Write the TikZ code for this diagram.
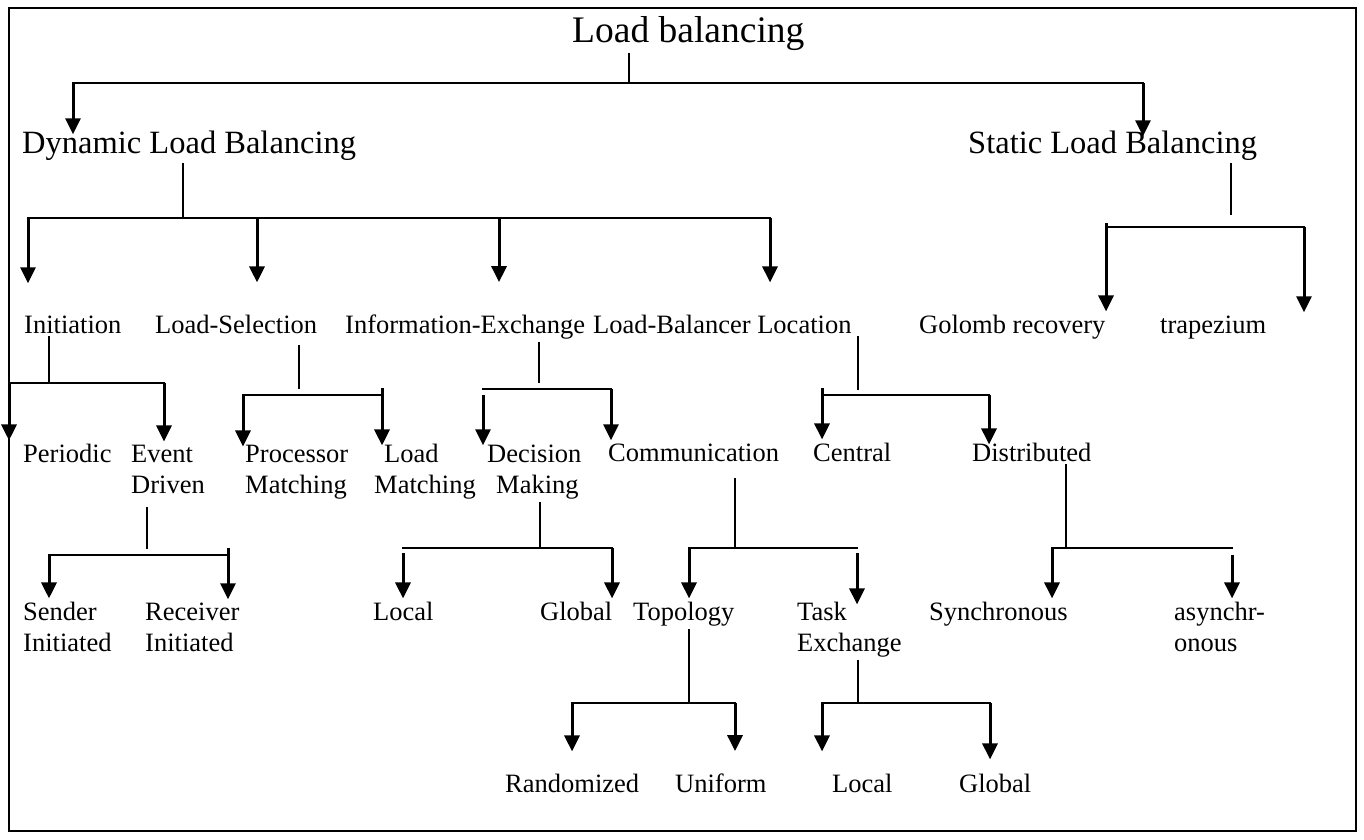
\documentclass[tikz,border=0pt]{standalone}
\usepackage{fontspec}
\setmainfont{Liberation Serif}
\usetikzlibrary{arrows.meta}

\begin{document}
\begin{tikzpicture}[
  x=1pt,y=-1pt,
  lbl/.style={anchor=base west,inner xsep=0pt,inner ysep=3pt,align=left,
              font=\fontsize{26.5}{31}\selectfont},
  kind/.style={lbl,font=\fontsize{32.5}{39}\selectfont},
  stem/.style={line width=1.5pt},
  bar/.style={line width=2.4pt,line cap=rect},
  arr/.style={line width=3pt,-{Triangle[length=16pt,width=15pt]}},
]
\useasboundingbox (0,0) rectangle (1364,839);
\draw[line width=2.6pt] (9,8) rectangle (1356,831);

% top of the tree
\node[lbl,font=\fontsize{37.5}{45}\selectfont] (root) at (572,42) {Load balancing};
\node[kind] (dyn)  at (22,153)  {Dynamic Load Balancing};
\node[kind] (stat) at (968,153) {Static Load Balancing};

% second row
\node[lbl] (init) at (24,333)   {Initiation};
\node[lbl] (lsel) at (155,333)  {Load-Selection};
\node[lbl] (iex)  at (345,333)  {Information-Exchange};
\node[lbl] (lloc) at (593,333)  {Load-Balancer Location};
\node[lbl] (gol)  at (919,333)  {Golomb recovery};
\node[lbl] (trap) at (1160,333) {trapezium};

% third row (two-line nodes sit on their last line)
\node[lbl] (per)  at (23,462)  {Periodic};
\node[lbl] (evd)  at (131,493) {Event\\Driven};
\node[lbl] (pm)   at (245,493) {Processor\\Matching};
\node[lbl] (lm)   at (374,493) {\hspace*{10pt}Load\\Matching};
\node[lbl] (dm)   at (487,493) {Decision\\\hspace*{9pt}Making};
\node[lbl] (comm) at (608,461) {Communication};
\node[lbl] (cen)  at (813,461) {Central};
\node[lbl] (dist) at (972,461) {Distributed};

% fourth row
\node[lbl] (snd)   at (23,651)   {Sender\\Initiated};
\node[lbl] (rcv)   at (145,651)  {Receiver\\Initiated};
\node[lbl] (loc1)  at (373,620)  {Local};
\node[lbl] (glob1) at (540,620)  {Global};
\node[lbl] (topo)  at (633,620)  {Topology};
\node[lbl] (tex)   at (797,651)  {Task\\Exchange};
\node[lbl] (sync)  at (929,620)  {Synchronous};
\node[lbl] (async) at (1174,651) {asynchr-\\onous};

% bottom row
\node[lbl] (rnd)   at (505,792) {Randomized};
\node[lbl] (uni)   at (675,792) {Uniform};
\node[lbl] (loc2)  at (832,792) {Local};
\node[lbl] (glob2) at (959,792) {Global};

% Load balancing
\coordinate (r-j) at (629,83);
\coordinate (r-l) at (73,83);
\coordinate (r-r) at (1143,83);
\draw[stem] (root.south -| r-j) -- (r-j);
\draw[bar] (r-l) -- (r-r);
\draw[arr,shorten >=-7pt] (r-l) -- (r-l |- dyn.north);
\draw[arr,shorten >=-9pt] (r-r) -- (r-r |- stat.north);

% Dynamic Load Balancing
\coordinate (d-j) at (183,218);
\coordinate (d-1) at (28,218);
\coordinate (d-2) at (257,218);
\coordinate (d-3) at (499,218);
\coordinate (d-4) at (770,218);
\draw[stem] (dyn.south -| d-j) -- (d-j);
\draw[bar] (d-1) -- (d-4);
\draw[arr,shorten >=29pt] (d-1) -- (d-1 |- init.north);
\draw[arr,shorten >=29pt] (d-2) -- (d-2 |- lsel.north);
\draw[arr,shorten >=29pt] (d-3) -- (d-3 |- iex.north);
\draw[arr,shorten >=29pt] (d-4) -- (d-4 |- lloc.north);

% Static Load Balancing
\coordinate (s-j) at (1231,215);
\coordinate (s-l) at (1106,227);
\coordinate (s-r) at (1304,227);
\draw[stem] (stat.south -| s-j) -- (s-j);
\draw[bar] (s-l) -- (s-r);
\draw[arr] ([yshift=4pt]s-l) -- (s-l |- gol.north);
\draw[arr] (s-r) -- (s-r |- trap.north);

% Initiation
\coordinate (i-j) at (49,383);
\coordinate (i-l) at (9,383);
\coordinate (i-r) at (164,383);
\draw[stem] (init.south -| i-j) -- (i-j);
\draw[bar] (i-l) -- (i-r);
\draw[arr] (i-l) -- (i-l |- per.north);
\draw[arr] (i-r) -- (i-r |- evd.north);

% Load-Selection
\coordinate (ls-j) at (299,389);
\coordinate (ls-l) at (243,395);
\coordinate (ls-r) at (382,395);
\draw[stem,shorten <=9pt] (lsel.south -| ls-j) -- (ls-j);
\draw[bar] (ls-l) -- (ls-r);
\draw[arr,shorten >=-5pt] (ls-l) -- (ls-l |- pm.north);
\draw[arr,shorten >=-5pt] ([yshift=7pt]ls-r) -- (ls-r |- lm.north);

% Information-Exchange
\coordinate (ie-j) at (539,383);
\coordinate (ie-l) at (483,389);
\coordinate (ie-r) at (611,389);
\draw[stem] (iex.south -| ie-j) -- (ie-j);
\draw[bar] (ie-l) -- (ie-r);
\draw[arr,shorten >=-4pt] ([yshift=-6pt]ie-l) -- (ie-l |- dm.north);
\draw[arr] (ie-r) -- (ie-r |- comm.north);

% Load-Balancer Location
\coordinate (lb-j) at (858,390);
\coordinate (lb-l) at (822,395);
\coordinate (lb-r) at (989,395);
\draw[stem] (lloc.south -| lb-j) -- (lb-j);
\draw[bar] (lb-l) -- (lb-r);
\draw[arr] ([yshift=7pt]lb-l) -- (lb-l |- cen.north);
\draw[arr,shorten >=-5pt] (lb-r) -- (lb-r |- dist.north);

% Event Driven
\coordinate (ed-j) at (147,549);
\coordinate (ed-l) at (49,555);
\coordinate (ed-r) at (228,555);
\draw[stem,shorten <=11pt] (evd.south -| ed-j) -- (ed-j);
\draw[bar] (ed-l) -- (ed-r);
\draw[arr] (ed-l) -- (ed-l |- snd.north);
\draw[arr] ([yshift=7pt]ed-r) -- (ed-r |- rcv.north);

% Decision Making
\coordinate (dm-j) at (540,548);
\coordinate (dm-l) at (403,548);
\coordinate (dm-r) at (612,548);
\draw[stem] (dm.south -| dm-j) -- (dm-j);
\draw[bar] (dm-l) -- (dm-r);
\draw[arr] ([yshift=-5pt]dm-l) -- (dm-l |- loc1.north);
\draw[arr] (dm-r) -- (dm-r |- glob1.north);

% Communication
\coordinate (co-j) at (735,548);
\coordinate (co-l) at (689,548);
\coordinate (co-r) at (857,548);
\draw[stem,shorten <=14pt] (comm.south -| co-j) -- (co-j);
\draw[bar] (co-l) -- (co-r);
\draw[arr] (co-l) -- (co-l |- topo.north);
\draw[arr,shorten >=-6pt] ([yshift=-5pt]co-r) -- (co-r |- tex.north);

% Distributed
\coordinate (di-j) at (1066,548);
\coordinate (di-l) at (1052,548);
\coordinate (di-r) at (1232,548);
\draw[stem] (dist.south -| di-j) -- (di-j);
\draw[bar] (di-l) -- (di-r);
\draw[arr] (di-l) -- (di-l |- sync.north);
\draw[arr] ([yshift=-7pt]di-r) -- (di-r |- async.north);

% Topology
\coordinate (to-j) at (689,703);
\coordinate (to-l) at (572,703);
\coordinate (to-r) at (735,703);
\draw[stem] (topo.south -| to-j) -- (to-j);
\draw[bar] (to-l) -- (to-r);
\draw[arr,shorten >=19pt] (to-l) -- (to-l |- rnd.north);
\draw[arr,shorten >=19pt] (to-r) -- (to-r |- uni.north);

% Task Exchange
\coordinate (te-j) at (858,703);
\coordinate (te-l) at (822,703);
\coordinate (te-r) at (990,703);
\draw[stem] (tex.south -| te-j) -- (te-j);
\draw[bar] (te-l) -- (te-r);
\draw[arr,shorten >=19pt] (te-l) -- (te-l |- loc2.north);
\draw[arr,shorten >=11pt] (te-r) -- (te-r |- glob2.north);
\end{tikzpicture}
\end{document}
